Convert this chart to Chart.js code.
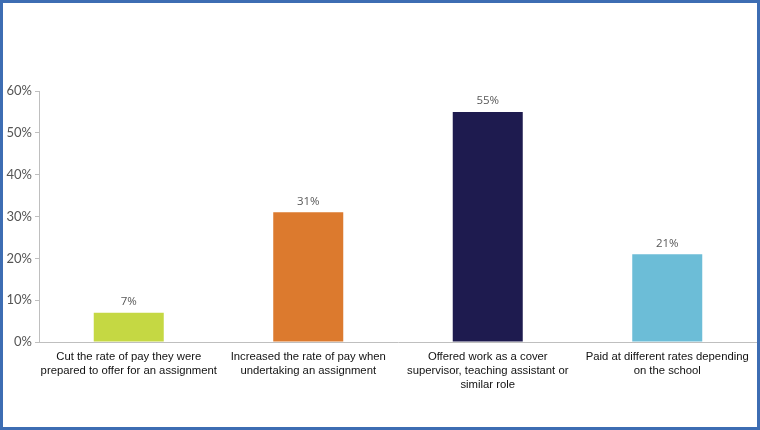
<!DOCTYPE html>
<html>
<head>
<meta charset="utf-8">
<script src="https://cdn.jsdelivr.net/npm/chart.js@4"></script>
<style>
  html, body { margin: 0; padding: 0; background: #fff; }
  #frame { width: 754px; height: 424px; border: 3px solid #3d6db3; position: relative; }
</style>
</head>
<body>
<div id="frame"><canvas id="myChart" width="754" height="424"></canvas></div>
<script>
const categories = [
    ['Cut the rate of pay they were', 'prepared to offer for an assignment'],
    ['Increased the rate of pay when', 'undertaking an assignment'],
    ['Offered work as a cover', 'supervisor, teaching assistant or', 'similar role'],
    ['Paid at different rates depending', 'on the school']
];
const values = [7, 31, 55, 21];
const barColors = ['#c5d843', '#dc7a2e', '#1e1b4f', '#6cbdd7'];

// value labels above each bar
const valueLabels = {
    id: 'valueLabels',
    afterDatasetsDraw(chart) {
        const ctx = chart.ctx;
        const meta = chart.getDatasetMeta(0);
        ctx.save();
        ctx.font = '11.5px "Open Sans", sans-serif';
        ctx.fillStyle = '#595959';
        ctx.textAlign = 'center';
        ctx.textBaseline = 'bottom';
        meta.data.forEach((bar, i) => {
            ctx.fillText(values[i] + '%', bar.x, bar.y - 5);
        });
        ctx.restore();
    }
};

let myChart = new Chart('myChart', {
    type: 'bar',
    data: {
        labels: categories,
        datasets: [{
            data: values,
            backgroundColor: barColors,
            barPercentage: 0.39,
            categoryPercentage: 1
        }]
    },
    options: {
        responsive: false,
        animation: false,
        layout: { padding: { top: 88, right: -2, left: 0, bottom: 0 } },
        plugins: {
            legend: { display: false },
            tooltip: { enabled: false }
        },
        scales: {
            x: {
                grid: { display: false },
                border: { display: true, color: '#bfbfbf' },
                ticks: {
                    color: '#111',
                    font: { family: '"Liberation Sans", Arial, sans-serif', size: 11.3, lineHeight: 1.22 },
                    maxRotation: 0,
                    autoSkip: false,
                    padding: 0
                },
                afterFit(scale) { scale.height = 85; }
            },
            y: {
                min: 0,
                max: 60,
                grid: { drawOnChartArea: false, drawTicks: true, tickLength: 4, color: '#bfbfbf' },
                border: { display: true, color: '#bfbfbf' },
                ticks: {
                    stepSize: 10,
                    color: '#555',
                    font: { family: 'Lato, sans-serif', size: 13 },
                    padding: 3,
                    callback: v => v + '%'
                },
                afterFit(scale) { scale.width = 36; }
            }
        }
    },
    plugins: [valueLabels]
});
</script>
</body>
</html>
